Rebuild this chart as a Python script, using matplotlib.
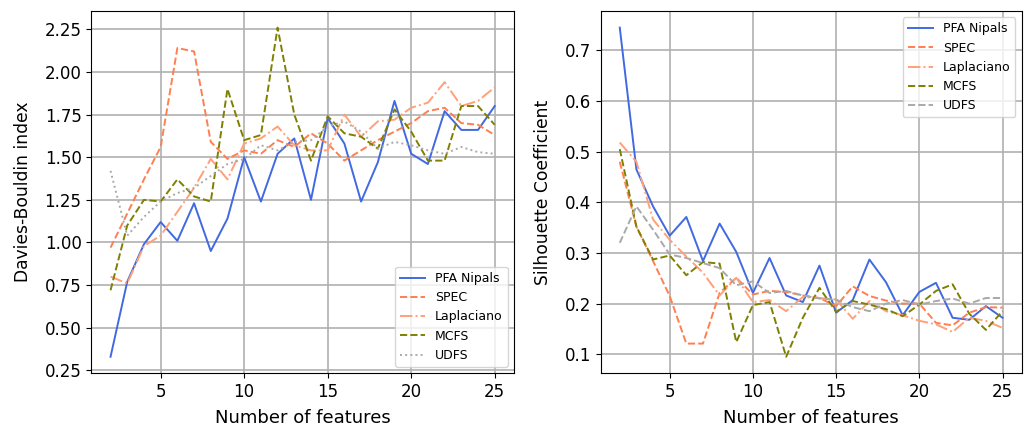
import matplotlib.pyplot as plt

n_features = list(range(2, 26))

# Davies-Bouldin index per method
db_pfa = [0.33, 0.77, 0.99, 1.12, 1.01, 1.23, 0.95, 1.14, 1.50, 1.24, 1.52, 1.61,
          1.25, 1.73, 1.58, 1.24, 1.47, 1.83, 1.52, 1.46, 1.77, 1.66, 1.66, 1.80]
db_spec = [0.97, 1.17, 1.37, 1.56, 2.14, 2.12, 1.59, 1.49, 1.54, 1.52, 1.60, 1.56,
           1.64, 1.58, 1.48, 1.54, 1.60, 1.65, 1.70, 1.77, 1.79, 1.70, 1.69, 1.63]
db_lap = [0.80, 0.76, 0.98, 1.04, 1.18, 1.32, 1.49, 1.37, 1.58, 1.61, 1.68, 1.57,
          1.54, 1.54, 1.75, 1.62, 1.71, 1.72, 1.79, 1.82, 1.94, 1.80, 1.83, 1.91]
db_mcfs = [0.72, 1.10, 1.25, 1.24, 1.37, 1.27, 1.24, 1.90, 1.60, 1.63, 2.26, 1.75,
           1.48, 1.74, 1.64, 1.62, 1.55, 1.78, 1.65, 1.48, 1.48, 1.80, 1.80, 1.69]
db_udfs = [1.42, 1.04, 1.15, 1.24, 1.29, 1.32, 1.39, 1.46, 1.49, 1.57, 1.54, 1.59,
           1.60, 1.68, 1.71, 1.65, 1.55, 1.59, 1.57, 1.54, 1.52, 1.56, 1.53, 1.52]

# Silhouette coefficient per method
sil_pfa = [0.745, 0.465, 0.392, 0.334, 0.371, 0.284, 0.358, 0.302, 0.221, 0.290, 0.216, 0.203,
           0.275, 0.182, 0.207, 0.287, 0.242, 0.177, 0.223, 0.241, 0.172, 0.168, 0.195, 0.172]
sil_spec = [0.48, 0.352, 0.284, 0.215, 0.121, 0.121, 0.221, 0.251, 0.218, 0.225, 0.223, 0.216,
            0.211, 0.195, 0.234, 0.215, 0.206, 0.200, 0.200, 0.162, 0.157, 0.182, 0.193, 0.192]
sil_lap = [0.518, 0.480, 0.366, 0.326, 0.293, 0.261, 0.216, 0.251, 0.203, 0.207, 0.185, 0.213,
           0.211, 0.208, 0.170, 0.205, 0.185, 0.177, 0.166, 0.159, 0.144, 0.172, 0.166, 0.152]
sil_mcfs = [0.505, 0.352, 0.287, 0.295, 0.256, 0.282, 0.279, 0.124, 0.197, 0.203, 0.095, 0.172,
            0.231, 0.184, 0.205, 0.198, 0.189, 0.175, 0.198, 0.225, 0.238, 0.180, 0.148, 0.185]
sil_udfs = [0.320, 0.392, 0.346, 0.297, 0.290, 0.280, 0.270, 0.236, 0.244, 0.221, 0.225, 0.216,
            0.210, 0.208, 0.193, 0.185, 0.200, 0.207, 0.198, 0.205, 0.210, 0.200, 0.211, 0.211]

fig, (ax1, ax2) = plt.subplots(1, 2, figsize=(10.32, 4.28), dpi=100)
ax1.set_position([0.0885, 0.128, 0.4095, 0.846])
ax2.set_position([0.582, 0.128, 0.408, 0.846])

lw = 1.4
ax1.plot(n_features, db_pfa, color='royalblue', lw=lw, label='PFA Nipals')
ax1.plot(n_features, db_spec, color='coral', ls='--', lw=lw, label='SPEC')
ax1.plot(n_features, db_lap, color='lightsalmon', ls='-.', lw=lw, label='Laplaciano')
ax1.plot(n_features, db_mcfs, color='olive', ls='--', lw=lw, label='MCFS')
ax1.plot(n_features, db_udfs, color='darkgray', ls=':', lw=lw, label='UDFS')
ax1.set_ylabel('Davies-Bouldin index', fontsize=12.3, labelpad=9)
ax1.legend(loc='lower right', fontsize=9)

ax2.plot(n_features, sil_pfa, color='royalblue', lw=lw, label='PFA Nipals')
ax2.plot(n_features, sil_spec, color='coral', ls='--', lw=lw, label='SPEC')
ax2.plot(n_features, sil_lap, color='lightsalmon', ls='-.', lw=lw, label='Laplaciano')
ax2.plot(n_features, sil_mcfs, color='olive', ls='--', lw=lw, label='MCFS')
ax2.plot(n_features, sil_udfs, color='darkgray', ls='--', lw=lw, label='UDFS')
ax2.set_ylabel('Silhouette Coefficient', fontsize=12.3, labelpad=9)
ax2.legend(loc='upper right', fontsize=9)

for ax in (ax1, ax2):
    ax.set_xlabel('Number of features', fontsize=13, labelpad=6)
    ax.set_xticks([5, 10, 15, 20, 25])
    ax.tick_params(labelsize=12)
    ax.grid(True, color='#b0b0b0', lw=1.2)

fig.savefig('out.png', dpi=100)
